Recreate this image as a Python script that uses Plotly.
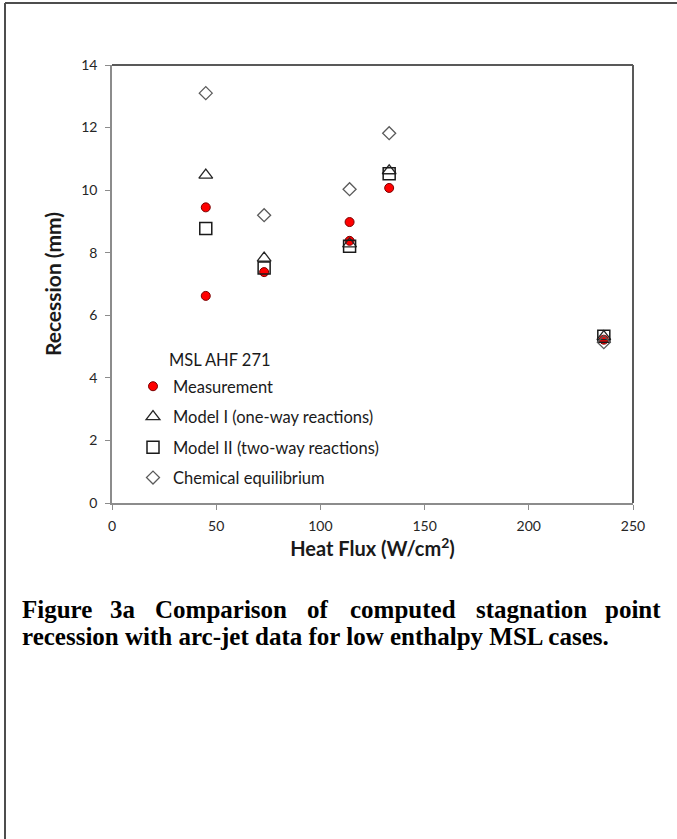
import plotly.graph_objects as go

# ---- data ----
meas_x = [45, 45, 73, 114, 114, 133, 236]
meas_y = [9.45, 6.62, 7.38, 8.98, 8.38, 10.07, 5.22]

m1_x = [45, 73, 114, 133, 236]
m1_y = [10.48, 7.83, 8.28, 10.62, 5.32]

m2_x = [45, 73, 114, 133, 236]
m2_y = [8.77, 7.51, 8.21, 10.52, 5.33]

ce_x = [45, 73, 114, 133, 236]
ce_y = [13.10, 9.20, 10.03, 11.82, 5.14]

x_ticks = [0, 50, 100, 150, 200, 250]
y_ticks = [0, 2, 4, 6, 8, 10, 12, 14]

legend_title = "MSL AHF 271"
caption_line1 = ["Figure", "3a", "Comparison", "of", "computed", "stagnation", "point"]
caption_line2 = "recession with arc-jet data for low enthalpy MSL cases."

W, H = 677, 839
L, R, T, B = 112, 44, 65, 336
pw, ph = W - L - R, H - T - B

def px_x(p):
    return (p - L) / pw

def px_y(p):
    return (H - B - p) / ph

SANS = "Lato, Open Sans, sans-serif"

fig = go.Figure()

fig.add_trace(go.Scatter(
    x=meas_x, y=meas_y, mode="markers", name="Measurement", legendgroup="a",
    marker=dict(symbol="circle", size=9, color="#ff0000",
                line=dict(color="#7a0000", width=1))))
fig.add_trace(go.Scatter(
    x=m1_x, y=m1_y, mode="markers", name="Model I (one-way reactions)", legendgroup="b",
    marker=dict(symbol="triangle-up-open", size=12, color="#262626",
                line=dict(color="#262626", width=1.3))))
fig.add_trace(go.Scatter(
    x=m2_x, y=m2_y, mode="markers", name="Model II (two-way reactions)", legendgroup="c",
    marker=dict(symbol="square-open", size=12, color="#1a1a1a",
                line=dict(color="#1a1a1a", width=1.5))))
fig.add_trace(go.Scatter(
    x=ce_x, y=ce_y, mode="markers", name="Chemical equilibrium", legendgroup="d",
    marker=dict(symbol="diamond-open", size=10, color="#5a5a5a",
                line=dict(color="#5a5a5a", width=1.3))))

tick_font = dict(family=SANS, size=14, color="#262626")

fig.update_layout(
    width=W, height=H,
    margin=dict(l=L, r=R, t=T, b=B, autoexpand=False),
    paper_bgcolor="white", plot_bgcolor="white",
    showlegend=True,
    legend=dict(
        x=px_x(133), y=px_y(369), xanchor="left", yanchor="top",
        traceorder="grouped", tracegroupgap=6,
        font=dict(family=SANS, size=16.5, color="#1a1a1a"),
        bgcolor="rgba(0,0,0,0)", borderwidth=0,
    ),
    xaxis=dict(
        range=[0, 250], tickvals=x_ticks, ticktext=[str(v) for v in x_ticks],
        showgrid=False, zeroline=False, showline=True, linecolor="#8c8c8c", linewidth=1.5,
        ticks="outside", ticklen=5, tickcolor="#8c8c8c", tickwidth=1.2,
        tickfont=tick_font, ticklabelstandoff=4,
        title=dict(text="<b>Heat Flux (W/cm<sup>2</sup>)</b>",
                   font=dict(family=SANS, size=20, color="#1a1a1a"),
                   standoff=9),
    ),
    yaxis=dict(
        range=[0, 14], tickvals=y_ticks, ticktext=[str(v) for v in y_ticks],
        showgrid=False, zeroline=False, showline=True, linecolor="#8c8c8c", linewidth=1.5,
        ticks="outside", ticklen=5, tickcolor="#8c8c8c", tickwidth=1.2,
        tickfont=tick_font, ticklabelstandoff=5,
        title=dict(text="<b>Recession (mm)</b>",
                   font=dict(family=SANS, size=21, color="#1a1a1a"),
                   standoff=14),
    ),
)

# plot-area border (top & right darker)
fig.add_shape(type="line", xref="paper", yref="paper", x0=0, x1=1, y0=1, y1=1,
              line=dict(color="#595959", width=2))
fig.add_shape(type="line", xref="paper", yref="paper", x0=1, x1=1, y0=0, y1=1,
              line=dict(color="#595959", width=2))

# page frame
fig.add_shape(type="line", xref="paper", yref="paper",
              x0=px_x(5), x1=px_x(W + 5), y0=px_y(3), y1=px_y(3),
              line=dict(color="#4d4d4d", width=2))
fig.add_shape(type="line", xref="paper", yref="paper",
              x0=px_x(5), x1=px_x(5), y0=px_y(3), y1=px_y(H + 5),
              line=dict(color="#4d4d4d", width=2))

# legend title
fig.add_annotation(text=legend_title, xref="paper", yref="paper",
                   x=px_x(167), y=px_y(360), xanchor="left", yanchor="middle",
                   showarrow=False,
                   font=dict(family=SANS, size=16.5, color="#1a1a1a"))

# caption (line 1 justified by word)
cap_font = dict(family="Liberation Serif, Times New Roman, serif", size=25, color="black")
word_centers = [55, 122.7, 221, 318, 403, 531.5, None]
for i, wtxt in enumerate(caption_line1):
    if i == 0:
        fig.add_annotation(text="<b>%s</b>" % wtxt, xref="paper", yref="paper",
                           x=px_x(20), y=px_y(609), xanchor="left", yanchor="middle",
                           showarrow=False, font=cap_font)
    elif i == len(caption_line1) - 1:
        fig.add_annotation(text="<b>%s</b>" % wtxt, xref="paper", yref="paper",
                           x=px_x(663), y=px_y(609), xanchor="right", yanchor="middle",
                           showarrow=False, font=cap_font)
    else:
        fig.add_annotation(text="<b>%s</b>" % wtxt, xref="paper", yref="paper",
                           x=px_x(word_centers[i]), y=px_y(609), xanchor="center",
                           yanchor="middle", showarrow=False, font=cap_font)
fig.add_annotation(text="<b>%s</b>" % caption_line2, xref="paper", yref="paper",
                   x=px_x(20), y=px_y(636), xanchor="left", yanchor="middle",
                   showarrow=False, font=cap_font)

fig.write_html("out.html")
